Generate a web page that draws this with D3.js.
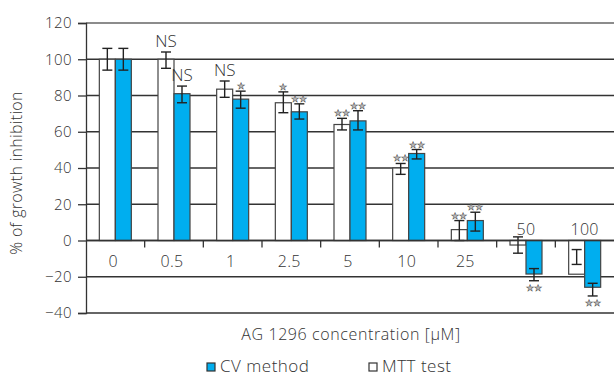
<!DOCTYPE html>
<html><head><meta charset="utf-8">
<script src="https://cdn.jsdelivr.net/npm/d3@7"></script>
<style>
html,body{margin:0;padding:0;background:#fff;}
svg{display:block;font-family:"Open Sans",sans-serif;font-weight:300;}
</style></head>
<body><svg id="c" width="614" height="376"></svg>
<script>
const categories = ["0","0.5","1","2.5","5","10","25","50","100"];
const mttValues = [100, 100, 83.5, 76, 64, 40, 6, -2.5, -18.6];
const mttErrLow = [94, 95, 79, 70.5, 61, 36.5, 0, -7, -13.2];
const mttErrHigh = [106, 104, 88, 82, 67.4, 42.5, 11, 2, -5];
const cvValues = [100, 81, 78, 71, 66, 48, 11, -18.5, -25.8];
const cvErrLow = [94, 76, 73, 67, 61, 45, 5.2, -22.2, -30.6];
const cvErrHigh = [106, 85.2, 82.4, 75.4, 71.6, 50.2, 15.6, -15.5, -23.6];
const mttSig = ["", "NS", "NS", "*", "**", "**", "**", "", ""];
const cvSig = ["", "NS", "*", "**", "**", "**", "**", "**", "**"];
const yTicks = [-40, -20, 0, 20, 40, 60, 80, 100, 120];
const yLabel = "% of growth inhibition";
const xLabel = "AG 1296 concentration [\u03bcM]";
const legendItems = ["CV method", "MTT test"];

(function(){
const svg = d3.select("#c");
const mL = 86, mR = 614, mT = 23, mB = 313;
const x = d3.scaleBand().domain(categories).range([mL, mR]).padding(0);
const y = d3.scaleLinear().domain([-40, 120]).range([mB, mT]);
const barW = 16;
const blue = "#00aeef";
const ink = "#333";

svg.append("g").selectAll("line").data(yTicks).join("line")
  .attr("x1", mL).attr("x2", mR)
  .attr("y1", d => y(d)).attr("y2", d => y(d))
  .attr("stroke", d => d === 120 ? "#666" : "#333").attr("stroke-width", 1.3);

const yAxis = d3.axisLeft(y).tickValues(yTicks).tickSize(8).tickPadding(6);
const gy = svg.append("g").attr("transform", `translate(${mL},0)`).call(yAxis);
gy.select(".domain").attr("stroke", "#333").attr("stroke-width", 1.3);
gy.selectAll(".tick line").attr("stroke", "#333").attr("stroke-width", 1.3);
gy.selectAll(".tick text").attr("fill", ink).style("font-size", "15px")
  .style("font-family", "Open Sans").style("font-weight", "300").style("letter-spacing", "0.4px");

const bounds = categories.slice(1).map(c => x(c));
svg.append("g").selectAll("line").data(bounds).join("line")
  .attr("x1", d => d).attr("x2", d => d)
  .attr("y1", y(0)).attr("y2", y(0) + 7)
  .attr("stroke", "#333").attr("stroke-width", 1.3);

function drawSeries(vals, lo, hi, sig, offset, fill) {
  const g = svg.append("g");
  const bx = (i) => x(categories[i]) + x.bandwidth() / 2 + offset;
  g.selectAll("rect").data(vals).join("rect")
    .attr("x", (d, i) => bx(i))
    .attr("width", barW)
    .attr("y", d => y(Math.max(0, d)))
    .attr("height", d => Math.abs(y(d) - y(0)))
    .attr("fill", fill).attr("stroke", "#444").attr("stroke-width", 1.2);
  const eg = g.append("g").attr("stroke", "#222").attr("stroke-width", 1.4);
  vals.forEach((v, i) => {
    const cx = bx(i) + barW / 2;
    eg.append("line").attr("x1", cx).attr("x2", cx).attr("y1", y(lo[i])).attr("y2", y(hi[i]));
    eg.append("line").attr("x1", cx - 5).attr("x2", cx + 5).attr("y1", y(lo[i])).attr("y2", y(lo[i]));
    eg.append("line").attr("x1", cx - 5).attr("x2", cx + 5).attr("y1", y(hi[i])).attr("y2", y(hi[i]));
    const s = sig[i];
    if (!s) return;
    if (s === "NS") {
      g.append("text").attr("x", cx).attr("y", y(hi[i]) - 5).attr("text-anchor", "middle")
        .attr("fill", ink).style("font-size", "17px").text("NS");
    } else {
      const stars = s.replace(/\*/g, "\u2605");
      const ty = v >= 0 ? y(hi[i]) - 2 : y(lo[i]) + 10;
      g.append("text").attr("x", cx).attr("y", ty).attr("text-anchor", "middle")
        .attr("fill", "#bbb").attr("stroke", "#555").attr("stroke-width", 0.5)
        .style("font-size", "9px").style("font-family", "DejaVu Sans").text(stars);
    }
  });
}
drawSeries(mttValues, mttErrLow, mttErrHigh, mttSig, -barW, "#fff");
drawSeries(cvValues, cvErrLow, cvErrHigh, cvSig, 0, blue);

svg.append("line").attr("x1", mL).attr("x2", mR).attr("y1", y(0)).attr("y2", y(0))
  .attr("stroke", "#333").attr("stroke-width", 1.3);

svg.append("g").selectAll("text").data(categories).join("text")
  .attr("x", (d, i) => x(d) + x.bandwidth() / 2 + (cvValues[i] < 0 ? 0 : -2))
  .attr("y", (d, i) => cvValues[i] < 0 ? y(0) - 6 : y(0) + 26)
  .attr("text-anchor", "middle").attr("fill", ink).style("font-size", "16px")
  .style("letter-spacing", "0.3px").text(d => d);

svg.append("text").attr("x", 351).attr("y", 340).attr("text-anchor", "middle")
  .attr("fill", ink).style("font-size", "16px").style("letter-spacing", "0.6px").text(xLabel);
svg.append("text").attr("transform", "translate(22,173) rotate(-90)").attr("text-anchor", "middle")
  .attr("fill", ink).style("font-size", "16px").style("letter-spacing", "0.3px").text(yLabel);

const legX = [207, 369];
const legFill = [blue, "#fff"];
legendItems.forEach((t, i) => {
  svg.append("rect").attr("x", legX[i]).attr("y", 363).attr("width", 8).attr("height", 8)
    .attr("fill", legFill[i]).attr("stroke", "#333").attr("stroke-width", 1.2);
  svg.append("text").attr("x", legX[i] + 13).attr("y", 372).attr("fill", ink)
    .style("font-size", "17px").style("letter-spacing", "0.5px").text(t);
});
})();
</script></body></html>
